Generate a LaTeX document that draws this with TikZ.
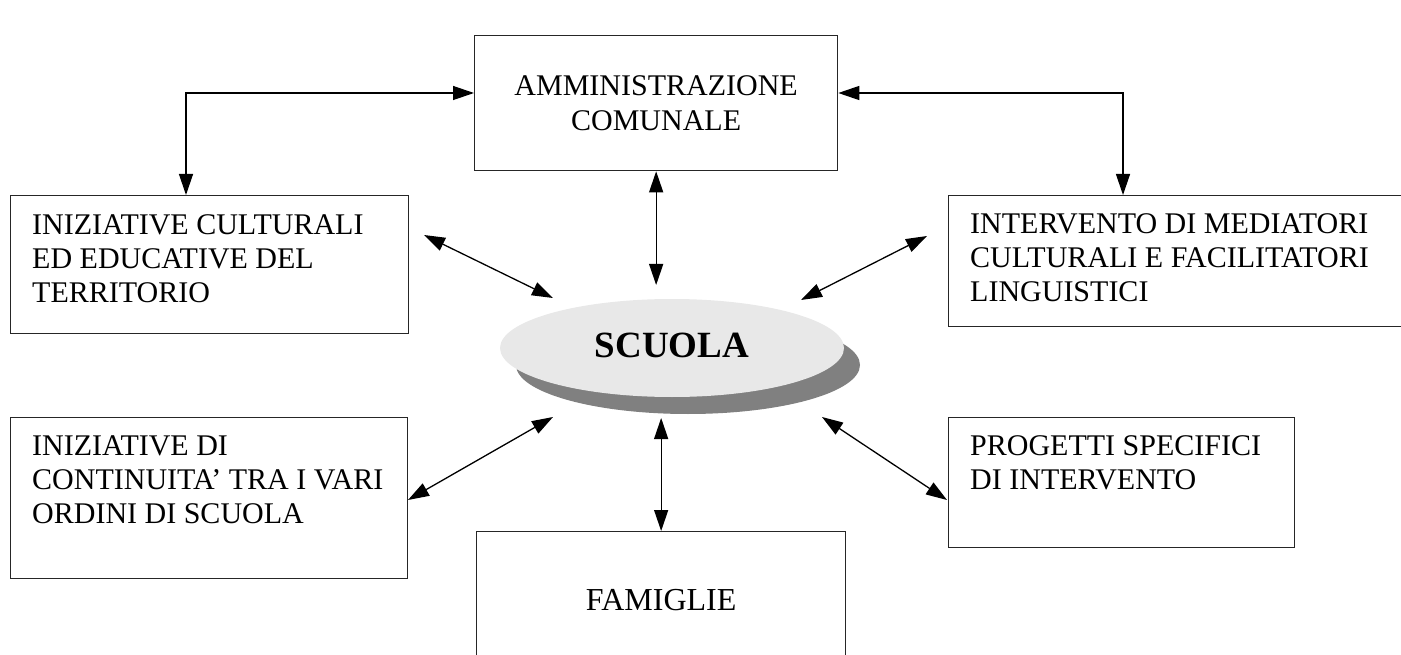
\documentclass[tikz,border=0pt]{standalone}
\usepackage{fontspec}
\setmainfont{Liberation Serif}
\usetikzlibrary{arrows.meta,shapes.geometric}
\begin{document}
\begin{tikzpicture}[x=1pt,y=-1pt,
  box/.style={draw=black!85, line width=1.3pt, rectangle, inner sep=0pt, anchor=north west},
  txt/.style={inner sep=0pt, anchor=north west, align=left, font=\fontsize{30}{34}\selectfont},
  ctxt/.style={align=center, font=\fontsize{30}{35}\selectfont},
  link/.style={line width=1.3pt, {Triangle[length=21pt,width=14pt]}-{Triangle[length=21pt,width=14pt]}}
]
\useasboundingbox (0,0) rectangle (1401,655);
\clip (0,0) rectangle (1401,655);

% boxes
\node[box, ctxt, minimum width=363pt, minimum height=135pt] (amm) at (474,35) {AMMINISTRAZIONE\\COMUNALE};
\node[box, minimum width=398pt, minimum height=138pt] (l1) at (10,195) {};
\node[box, minimum width=480pt, minimum height=131pt] (r1) at (948,195) {};
\node[box, minimum width=397pt, minimum height=161pt] (l2) at (10,417) {};
\node[box, minimum width=346pt, minimum height=130pt] (r2) at (948,417) {};
\node[box, ctxt, font=\fontsize{32}{36}\selectfont, minimum width=369pt, minimum height=136pt] (fam) at (476,531) {FAMIGLIE};

% texts
\node[txt] (l1t) at (32,214) {INIZIATIVE CULTURALI\\ED EDUCATIVE DEL\\TERRITORIO};
\node[txt] (r1t) at (970,213) {INTERVENTO DI MEDIATORI\\CULTURALI E FACILITATORI\\LINGUISTICI};
\node[txt] (l2t) at (32,435) {INIZIATIVE DI\\CONTINUITA’ TRA I VARI\\ORDINI DI SCUOLA};
\node[txt] (r2t) at (970,435) {PROGETTI SPECIFICI\\DI INTERVENTO};

% central ellipse
\node[ellipse, fill=black!50, minimum width=344pt, minimum height=98pt, inner sep=0pt] (shadow) at (688,365) {};
\node[ellipse, fill=black!9, minimum width=344pt, minimum height=98pt, inner sep=0pt] (scuola) at (672,348) {};
\node[font=\fontsize{37}{42}\selectfont\bfseries, inner sep=0pt] (scuolat) at (672,345) {SCUOLA};

% free ends near the ellipse
\coordinate (sTop) at (amm.south |- 0,285);
\coordinate (sBot) at (fam.north |- 0,418);
\coordinate (sNW) at (553,298);
\coordinate (sNE) at (801,300);
\coordinate (sSW) at (553,417);
\coordinate (sSE) at (822,417);
\coordinate (oNW) at (424,235);
\coordinate (oNE) at (927,236);
\coordinate (oSW) at (408,500);
\coordinate (oSE) at (947,500);

% connectors
\draw[link] (amm.south) -- (sTop);
\draw[link] (sBot) -- (fam.north);
\draw[link] (oNW) -- (sNW);
\draw[link] (sNE) -- (oNE);
\draw[link] (sSW) -- (oSW);
\draw[link] (sSE) -- (oSE);
\draw[link] (amm.west |- 0,93) -| (l1.north -| 186,0);
\draw[link] (amm.east |- 0,93) -| (r1.north -| 1123,0);
\end{tikzpicture}
\end{document}
